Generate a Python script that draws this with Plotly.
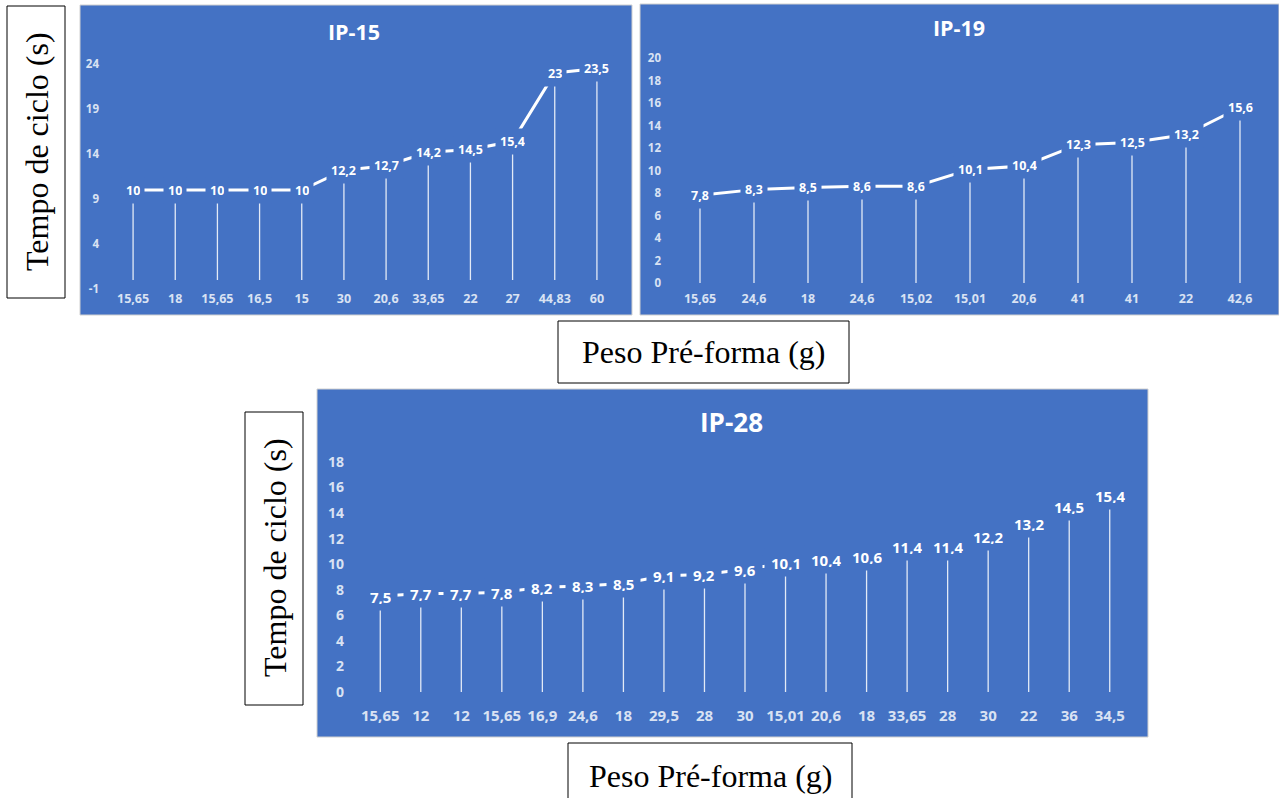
import plotly.graph_objects as go

# ---------------- data ----------------
ip15_x = ["15,65", "18", "15,65", "16,5", "15", "30", "20,6", "33,65", "22", "27", "44,83", "60"]
ip15_y = [10, 10, 10, 10, 10, 12.2, 12.7, 14.2, 14.5, 15.4, 23, 23.5]
ip15_yticks = [-1, 4, 9, 14, 19, 24]

ip19_x = ["15,65", "24,6", "18", "24,6", "15,02", "15,01", "20,6", "41", "41", "22", "42,6"]
ip19_y = [7.8, 8.3, 8.5, 8.6, 8.6, 10.1, 10.4, 12.3, 12.5, 13.2, 15.6]
ip19_yticks = [0, 2, 4, 6, 8, 10, 12, 14, 16, 18, 20]

ip28_x = ["15,65", "12", "12", "15,65", "16,9", "24,6", "18", "29,5", "28", "30",
          "15,01", "20,6", "18", "33,65", "28", "30", "22", "36", "34,5"]
ip28_y = [7.5, 7.7, 7.7, 7.8, 8.2, 8.3, 8.5, 9.1, 9.2, 9.6,
          10.1, 10.4, 10.6, 11.4, 11.4, 12.2, 13.2, 14.5, 15.4]
ip28_yticks = [0, 2, 4, 6, 8, 10, 12, 14, 16, 18]

y_title = "Tempo de ciclo (s)"
x_title = "Peso Pré-forma (g)"

# ---------------- layout helpers ----------------
W, H = 1279, 798
BLUE = "#4472C4"
TICK_COLOR = "#D9E2F3"
SANS = "Open Sans, Noto Sans, sans-serif"
SERIF = "Liberation Serif, Times New Roman, serif"


def fx(x):
    return x / W


def fy(y):
    return 1 - y / H


charts = [
    dict(title="IP-15", cats=ip15_x, vals=ip15_y, yticks=ip15_yticks, xdom=(112, 618),
         ydom=(289, 64), yrange=(-1, 24), title_xy=(354, 31), panel=(80, 5, 632, 315),
         xstand=0, ystand=12, fsize=12.5, tsize=21.5, pad=4),
    dict(title="IP-19", cats=ip19_x, vals=ip19_y, yticks=ip19_yticks, xdom=(673, 1267),
         ydom=(283, 58), yrange=(0, 20), title_xy=(959, 27), panel=(640, 4, 1279, 315),
         xstand=6, ystand=11, fsize=12.5, tsize=21.5, pad=4),
    dict(title="IP-28", cats=ip28_x, vals=ip28_y, yticks=ip28_yticks, xdom=(360, 1130),
         ydom=(692, 462), yrange=(0, 18), title_xy=(732, 422), panel=(317, 389, 1148, 737),
         xstand=13, ystand=15, fsize=15, tsize=26, pad=6),
]

fig = go.Figure()
annotations = []
shapes = []
layout_axes = {}

for k, c in enumerate(charts, start=1):
    sfx = "" if k == 1 else str(k)
    xa, ya = "x" + sfx, "y" + sfx
    n = len(c["vals"])
    xs = list(range(n))
    fig.add_trace(go.Scatter(
        x=xs, y=c["vals"], mode="lines",
        line=dict(color="white", width=3),
        error_y=dict(type="data", symmetric=False, array=[0] * n, arrayminus=c["vals"],
                     color="rgba(255,255,255,0.85)", thickness=1.3, width=0),
        xaxis=xa, yaxis=ya, cliponaxis=False, showlegend=False, hoverinfo="skip",
    ))
    layout_axes["xaxis" + sfx] = dict(
        domain=[fx(c["xdom"][0]), fx(c["xdom"][1])], anchor=ya,
        range=[-0.5, n - 0.5], tickmode="array", tickvals=xs, ticktext=c["cats"],
        showgrid=False, zeroline=False, showline=False, ticks="",
        ticklabelstandoff=c["xstand"], automargin=False,
        tickfont=dict(family=SANS, size=c["fsize"], color=TICK_COLOR, weight="bold"),
        fixedrange=True,
    )
    layout_axes["yaxis" + sfx] = dict(
        domain=[fy(c["ydom"][0]), fy(c["ydom"][1])], anchor=xa,
        range=list(c["yrange"]), tickmode="array", tickvals=c["yticks"],
        ticktext=[str(t) for t in c["yticks"]],
        showgrid=False, zeroline=False, showline=False, ticks="",
        ticklabelstandoff=c["ystand"], automargin=False,
        tickfont=dict(family=SANS, size=c["fsize"] - 1, color=TICK_COLOR, weight="bold"),
        fixedrange=True,
    )
    # data labels
    hgt = c["fsize"] + 12 - 2 * c["pad"]
    for i, v in enumerate(c["vals"]):
        annotations.append(dict(
            x=i, y=v, xref=xa, yref=ya, text=f"{v:g}".replace(".", ","),
            showarrow=False, bgcolor=BLUE, borderpad=c["pad"], height=hgt,
            font=dict(family=SANS, size=c["fsize"], color="white", weight="bold"),
        ))
    # chart title
    annotations.append(dict(
        x=fx(c["title_xy"][0]), y=fy(c["title_xy"][1]), xref="paper", yref="paper",
        text=c["title"], showarrow=False, xanchor="center", yanchor="middle",
        font=dict(family=SANS, size=c["tsize"], color="white", weight="bold"),
    ))
    # blue panel
    x0, y0, x1, y1 = c["panel"]
    shapes.append(dict(type="rect", xref="paper", yref="paper", layer="below",
                       x0=fx(x0), x1=fx(x1), y0=fy(y1), y1=fy(y0),
                       fillcolor=BLUE, line=dict(color="#D0D0D0", width=1)))

# outer label boxes
boxes = [
    dict(rect=(7, 6, 65, 298), text=y_title, angle=-90, center=(37, 152)),
    dict(rect=(558, 321, 849, 383), text=x_title, angle=0, center=(703, 352)),
    dict(rect=(245, 412, 303, 705), text=y_title, angle=-90, center=(275, 558)),
    dict(rect=(568, 743, 852, 805), text=x_title, angle=0, center=(710, 776)),
]
for b in boxes:
    x0, y0, x1, y1 = b["rect"]
    shapes.append(dict(type="rect", xref="paper", yref="paper", layer="above",
                       x0=fx(x0), x1=fx(x1), y0=fy(y1), y1=fy(y0),
                       fillcolor="rgba(0,0,0,0)", line=dict(color="black", width=1)))
    annotations.append(dict(
        x=fx(b["center"][0]), y=fy(b["center"][1]), xref="paper", yref="paper",
        text=b["text"], textangle=b["angle"], showarrow=False,
        xanchor="center", yanchor="middle",
        font=dict(family=SERIF, size=32, color="black"),
    ))

fig.update_layout(
    width=W, height=H, margin=dict(l=0, r=0, t=0, b=0, pad=0, autoexpand=False),
    paper_bgcolor="white", plot_bgcolor="rgba(0,0,0,0)",
    annotations=annotations, shapes=shapes, showlegend=False,
    **layout_axes,
)

post = (
    "document.documentElement.style.margin='0';"
    "document.documentElement.style.overflow='hidden';"
    "document.body.style.margin='0';"
    "document.body.style.overflow='hidden';"
    "var gd=document.getElementById('{plot_id}');"
    "gd.style.position='absolute';gd.style.left='0px';gd.style.top='0px';"
)

fig.write_html("out.html", post_script=post, config={"displayModeBar": False})
